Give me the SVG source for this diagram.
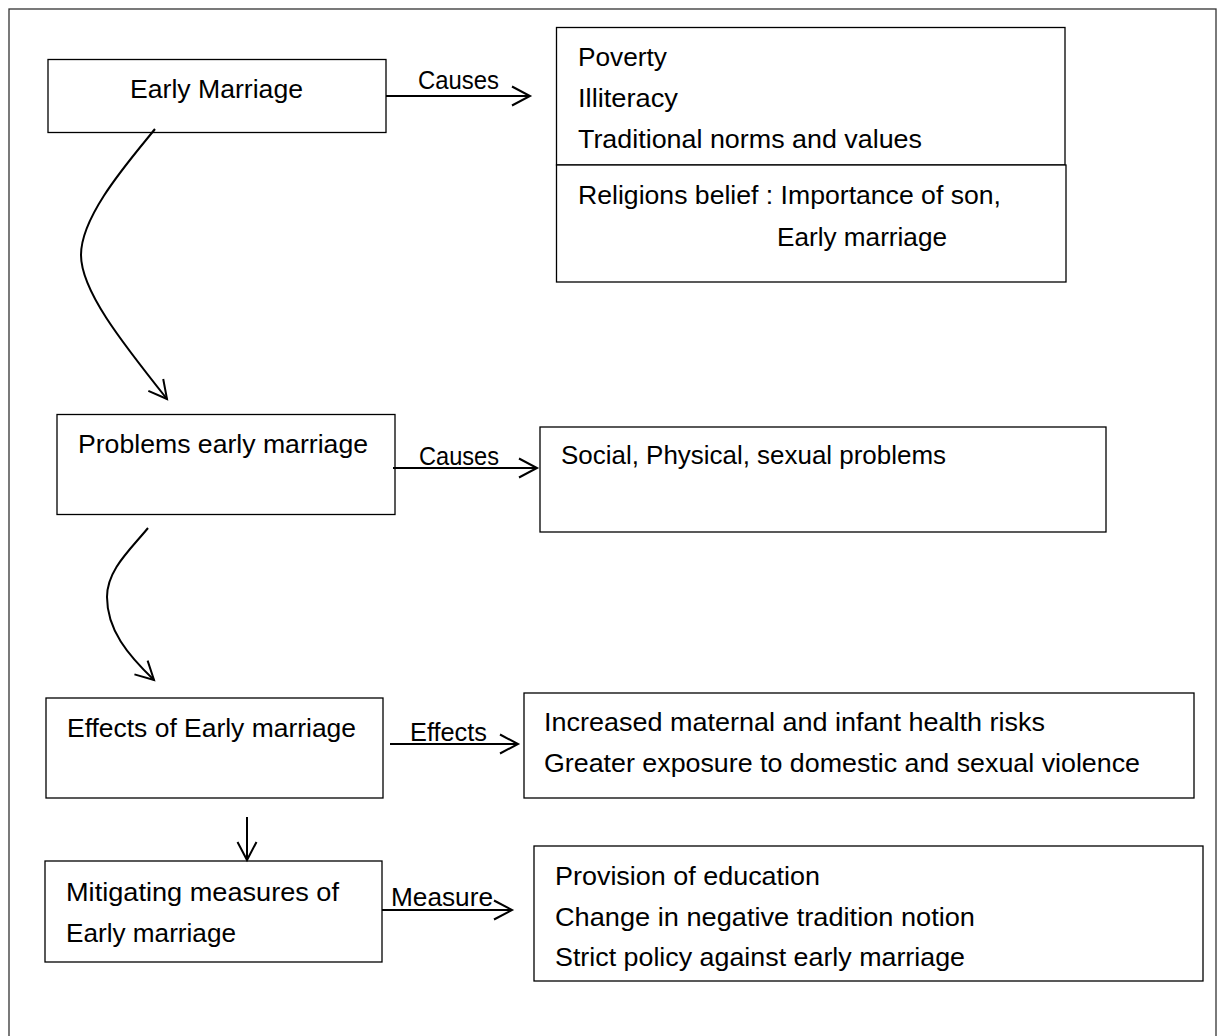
<svg xmlns="http://www.w3.org/2000/svg" width="1219" height="1036" viewBox="0 0 1219 1036">
<style>
  .box { fill: #fff; stroke: #000; stroke-width: 1.3; }
  .frame { fill: #fff; stroke: #333; stroke-width: 1.3; }
  .t { font-family: "Liberation Sans", Arial, sans-serif; font-size: 26px; fill: #000; }
  .c { fill: none; stroke: #000; stroke-width: 2; }
</style>
<defs>
  <marker id="open" viewBox="-20 -12 22 24" refX="0" refY="0" markerWidth="22" markerHeight="24" markerUnits="userSpaceOnUse" orient="auto" overflow="visible">
    <path d="M-18,-9.5 L0,0 L-18,9.5" fill="none" stroke="#000" stroke-width="2"/>
  </marker>
  <clipPath id="clipMeasure"><rect x="534" y="846" width="669" height="126"/></clipPath>
</defs>

<rect class="frame" x="9" y="9" width="1207" height="1040"/>

<g id="node-early-marriage">
  <rect class="box" x="48" y="59.5" width="338" height="73"/>
  <text class="t" x="130" y="98" textLength="173" lengthAdjust="spacingAndGlyphs">Early Marriage</text>
</g>

<g id="node-causes-list">
  <rect class="box" x="556.5" y="27.5" width="508.5" height="137.5"/>
  <text class="t" x="578" y="66" textLength="89" lengthAdjust="spacingAndGlyphs">Poverty</text>
  <text class="t" x="578" y="107" textLength="100" lengthAdjust="spacingAndGlyphs">Illiteracy</text>
  <text class="t" x="578" y="148" textLength="344" lengthAdjust="spacingAndGlyphs">Traditional norms and values</text>
</g>

<g id="node-religious-belief">
  <rect class="box" x="556.5" y="165" width="509.5" height="117"/>
  <text class="t" x="578" y="204" textLength="423" lengthAdjust="spacingAndGlyphs">Religions belief : Importance of son,</text>
  <text class="t" x="777" y="246" textLength="170" lengthAdjust="spacingAndGlyphs">Early marriage</text>
</g>

<g id="node-problems">
  <rect class="box" x="57" y="414.5" width="338" height="100"/>
  <text class="t" x="78" y="453" textLength="290" lengthAdjust="spacingAndGlyphs">Problems early marriage</text>
</g>

<g id="node-problems-list">
  <rect class="box" x="540" y="427" width="566" height="105"/>
  <text class="t" x="561" y="464" textLength="385" lengthAdjust="spacingAndGlyphs">Social, Physical, sexual problems</text>
</g>

<g id="node-effects">
  <rect class="box" x="46" y="698" width="337" height="100"/>
  <text class="t" x="67" y="737" textLength="289" lengthAdjust="spacingAndGlyphs">Effects of Early marriage</text>
</g>

<g id="node-effects-list">
  <rect class="box" x="524" y="693" width="670" height="105"/>
  <text class="t" x="544" y="731" textLength="501" lengthAdjust="spacingAndGlyphs">Increased maternal and infant health risks</text>
  <text class="t" x="544" y="772" textLength="596" lengthAdjust="spacingAndGlyphs">Greater exposure to domestic and sexual violence</text>
</g>

<g id="node-mitigating">
  <rect class="box" x="45" y="861" width="337" height="101"/>
  <text class="t" x="66" y="901" textLength="273" lengthAdjust="spacingAndGlyphs">Mitigating measures of</text>
  <text class="t" x="66" y="942" textLength="170" lengthAdjust="spacingAndGlyphs">Early marriage</text>
</g>

<g id="node-measures-list">
  <rect class="box" x="534" y="846" width="669" height="135"/>
  <text class="t" x="555" y="885" textLength="265" lengthAdjust="spacingAndGlyphs">Provision of education</text>
  <text class="t" x="555" y="926" textLength="420" lengthAdjust="spacingAndGlyphs">Change in negative tradition notion</text>
  <text class="t" x="555" y="966" textLength="410" lengthAdjust="spacingAndGlyphs" clip-path="url(#clipMeasure)">Strict policy against early marriage</text>
</g>

<g id="connectors">
  <path class="c" d="M386,96 L530,96" marker-end="url(#open)"/>
  <text class="t" x="418" y="89" textLength="81" lengthAdjust="spacingAndGlyphs">Causes</text>

  <path class="c" d="M155,129 C130,160 81,215 81,255 C81,290 120,340 167,399" marker-end="url(#open)"/>

  <path class="c" d="M393,468 L537,468" marker-end="url(#open)"/>
  <text class="t" x="419" y="465" textLength="80" lengthAdjust="spacingAndGlyphs">Causes</text>

  <path class="c" d="M148,528 C130,550 107,570 107,597 C107,630 128,655 154,680" marker-end="url(#open)"/>

  <path class="c" d="M390,744 L518,744" marker-end="url(#open)"/>
  <text class="t" x="410" y="741" textLength="77" lengthAdjust="spacingAndGlyphs">Effects</text>

  <path class="c" d="M247,817 L247,860" marker-end="url(#open)"/>

  <path class="c" d="M382,910 L512,910" marker-end="url(#open)"/>
  <text class="t" x="391" y="906" textLength="102" lengthAdjust="spacingAndGlyphs">Measure</text>
</g>
</svg>
